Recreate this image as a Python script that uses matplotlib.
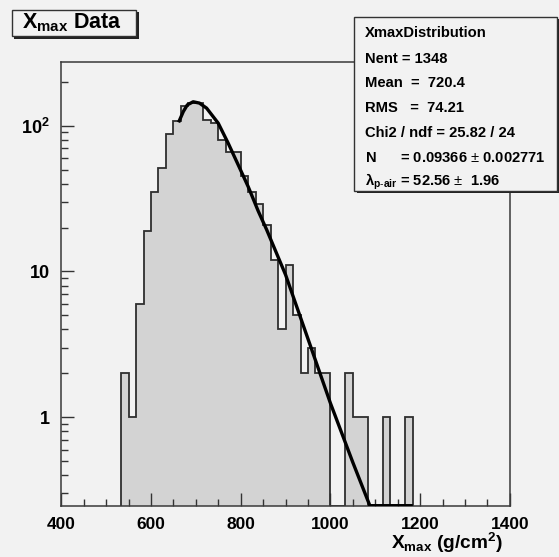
import numpy as np
import matplotlib
matplotlib.use("Agg")
import matplotlib.pyplot as plt
from matplotlib.patches import Rectangle
from matplotlib.ticker import FixedLocator, FixedFormatter, MultipleLocator, NullFormatter

plt.rcParams["font.family"] = ["Liberation Sans", "DejaVu Sans"]
plt.rcParams["mathtext.fontset"] = "custom"
plt.rcParams["mathtext.rm"] = "Liberation Sans"
plt.rcParams["mathtext.it"] = "Liberation Sans:italic"
plt.rcParams["mathtext.bf"] = "Liberation Sans:bold"

# histogram: 60 bins from 400 to 1400, non-empty part starts at bin 8
bin_edges_all = np.linspace(400, 1400, 61)
first_bin = 8
counts = [2, 1, 6, 19, 35, 51, 88, 108, 137, 144,
          144, 110, 105, 80, 66, 66, 45, 35, 29, 21,
          12, 4, 11, 5, 2, 3, 2, 2, 0, 0,
          2, 1, 1, 0, 0, 1, 0, 0, 1]

# fitted curve
fit_x = [663, 672, 681, 694, 708, 724, 750, 772, 798, 817, 839, 858,
         900, 950, 1000, 1050, 1088, 1130, 1180]
fit_y = [108, 125, 139, 146, 143, 132, 104, 76, 51, 38, 26, 19.3,
         9.5, 3.45, 1.25, 0.49, 0.244, 0.11, 0.044]

stats_lines = [
    "XmaxDistribution",
    "Nent = 1348",
    "Mean  =  720.4",
    "RMS   =  74.21",
    "Chi2 / ndf = 25.82 / 24",
    "N      = 0.09366 $\\pm$ 0.002771",
    "\u03bb$_{\\mathbf{p}\\text{-}\\mathbf{air}}$ = 52.56 $\\pm$  1.96",
]

y_lo, y_hi = 0.246, 275
bg = "#f2f2f2"

W, H = 559, 557
fig = plt.figure(figsize=(W / 100, H / 100), dpi=100, facecolor=bg)

left, right, bottom, top = 61.3, 509.8, 506.0, 61.7
ax = fig.add_axes([left / W, 1 - bottom / H, (right - left) / W, (bottom - top) / H])
ax.set_facecolor(bg)

counts = np.array(counts, dtype=float)
edges = bin_edges_all[first_bin:first_bin + len(counts) + 1]
vals = np.where(counts > 0, counts, y_lo)

ax.stairs(vals, edges, baseline=y_lo, fill=True, color="#d3d3d3", zorder=1)
ax.stairs(vals, edges, baseline=y_lo, color="#2e2e2e", linewidth=1.3, zorder=2)

fit_plot = np.clip(np.array(fit_y), y_lo * 1.005, None)
ax.plot(fit_x, fit_plot, color="black", linewidth=2.4, zorder=3,
        solid_joinstyle="round")

ax.set_yscale("log")
ax.set_xlim(400, 1400)
ax.set_ylim(y_lo, y_hi)

ax.xaxis.set_major_locator(MultipleLocator(200))
ax.xaxis.set_minor_locator(MultipleLocator(50))
ax.yaxis.set_major_locator(FixedLocator([1, 10, 100]))
ax.yaxis.set_major_formatter(FixedFormatter(["1", "10", r"$\mathbf{10^{2}}$"]))
minor_y = [m * 10.0 ** e for e in (-1, 0, 1, 2) for m in range(2, 10)]
ax.yaxis.set_minor_locator(FixedLocator(minor_y))
ax.yaxis.set_minor_formatter(NullFormatter())

ax.tick_params(which="both", direction="in", top=False, right=False,
               color="#333333", width=1.0)
ax.tick_params(which="major", length=9.5)
ax.tick_params(which="minor", length=5)
ax.tick_params(axis="x", which="major", pad=8, labelsize=12.5)
ax.tick_params(axis="y", which="major", pad=8, labelsize=13)
for lab in ax.get_xticklabels() + ax.get_yticklabels():
    lab.set_fontweight("bold")

for sp in ax.spines.values():
    sp.set_color("#3a3a3a")
    sp.set_linewidth(1.1)

ax.text(0.985, -0.084, r"X$_{\mathbf{max}}$ (g/cm$^{\mathbf{2}}$)",
        transform=ax.transAxes, ha="right", va="center",
        fontsize=13.8, fontweight="bold")


def box(x0, y0, x1, y1, shadow=2.5):
    # ROOT-like pave with dark shadow bottom/right
    fig.patches.append(Rectangle((x0 / W + shadow / W, 1 - y1 / H - shadow / H),
                                 (x1 - x0) / W, (y1 - y0) / H,
                                 transform=fig.transFigure, facecolor="#222222",
                                 edgecolor="none", zorder=5))
    fig.patches.append(Rectangle((x0 / W, 1 - y1 / H), (x1 - x0) / W, (y1 - y0) / H,
                                 transform=fig.transFigure, facecolor=bg,
                                 edgecolor="#333333", linewidth=1.0, zorder=6))


# title pave
box(12, 10, 136, 36)
fig.text(72 / W, 1 - 23 / H, r"X$_{\mathbf{max}}$ Data", ha="center", va="center",
         fontsize=15.5, fontweight="bold", zorder=7)

# stats pave
box(354, 17, 557, 191)
line_y = [33, 59, 83, 108, 133, 158, 182]
for txt, yy in zip(stats_lines, line_y):
    fig.text(365 / W, 1 - yy / H, txt, ha="left", va="center",
             fontsize=10.6, fontweight="bold", zorder=7)

fig.savefig("out.png", dpi=100, facecolor=bg)
